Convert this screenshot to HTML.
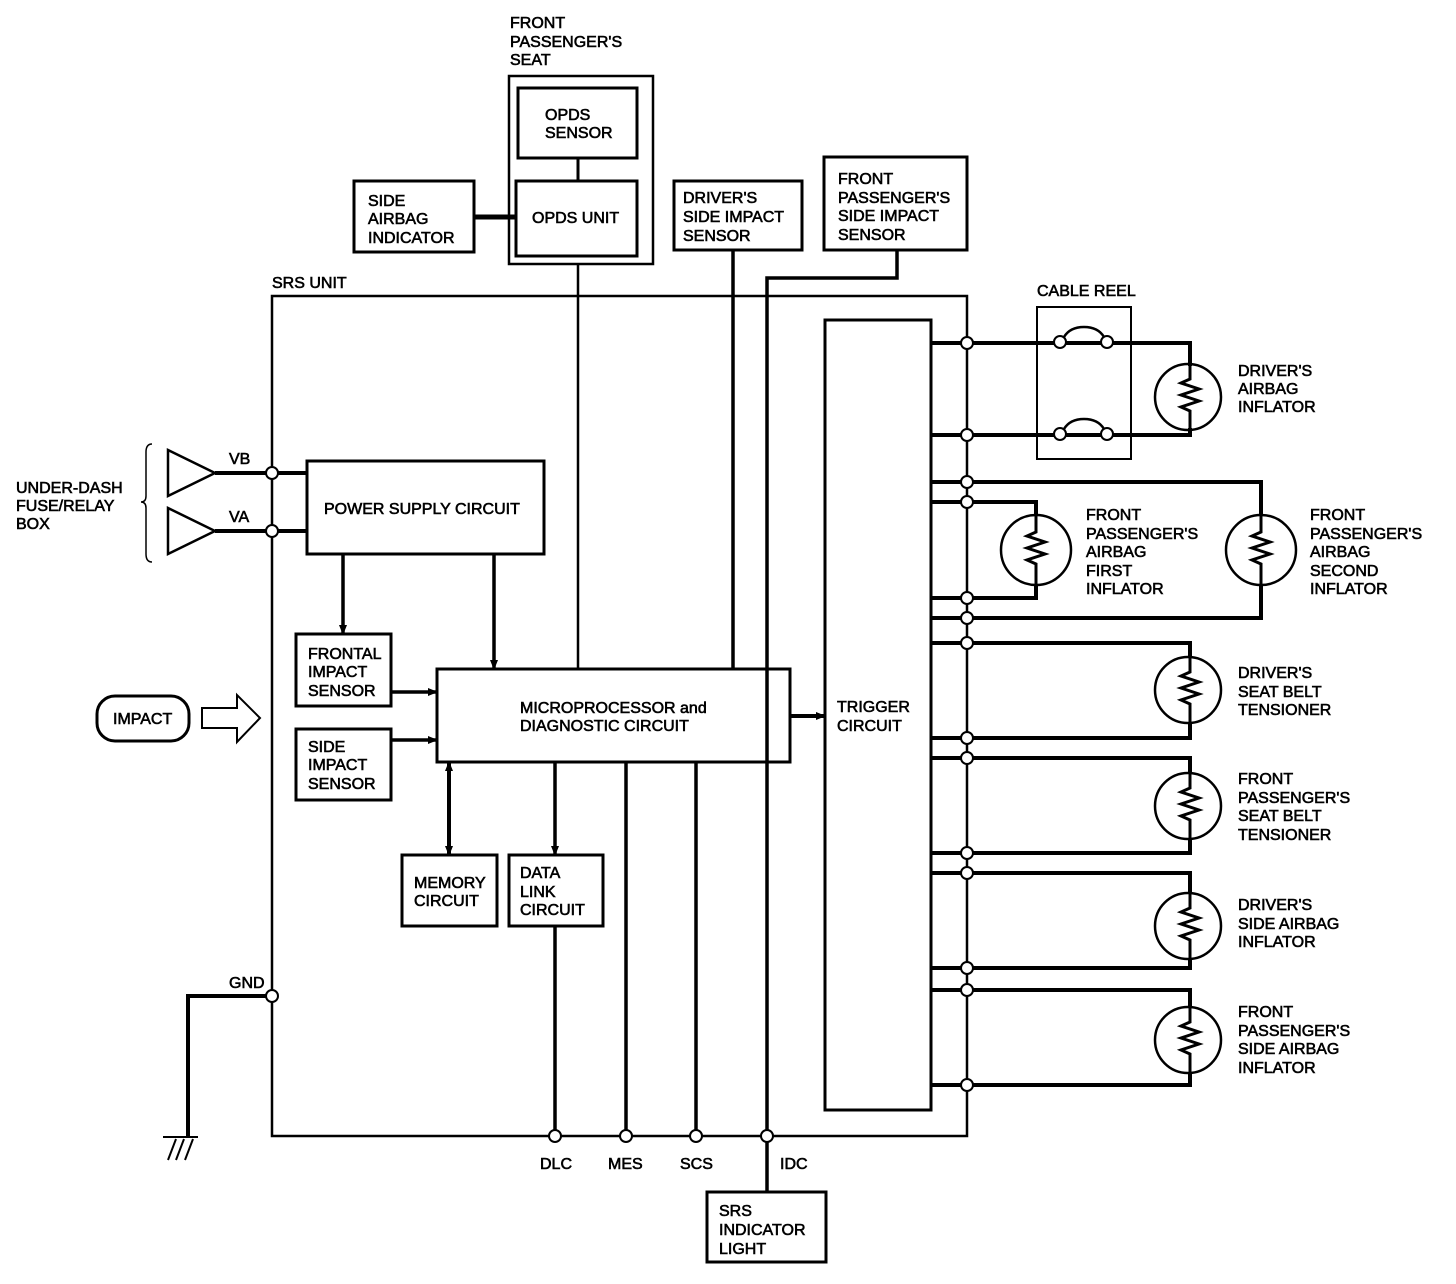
<!DOCTYPE html>
<html><head><meta charset="utf-8"><style>
html,body{margin:0;padding:0;background:#fff;}
svg{display:block;}
text{font-family:"Liberation Sans",sans-serif;font-size:16px;fill:#000;stroke:#000;stroke-width:0.6;}
</style></head><body>
<svg width="1456" height="1284" viewBox="0 0 1456 1284" xmlns="http://www.w3.org/2000/svg">
<defs>
<marker id="ah" markerWidth="10" markerHeight="10" refX="9" refY="5" orient="auto" markerUnits="userSpaceOnUse"><path d="M0,1 L10,5 L0,9 Z" fill="#000"/></marker>
<marker id="ahs" markerWidth="10" markerHeight="10" refX="1" refY="5" orient="auto" markerUnits="userSpaceOnUse"><path d="M10,1 L0,5 L10,9 Z" fill="#000"/></marker>
</defs>
<g fill="none" stroke="#000">
<path d="M272,296 H967 V1136 H272 Z" stroke-width="2.5"/>
<rect x="509" y="76" width="144" height="188" stroke-width="2.5"/>
<rect x="518" y="88" width="119" height="70" stroke-width="3"/>
<rect x="516" y="181" width="121" height="75" stroke-width="3"/>
<line x1="578" y1="158" x2="578" y2="181" stroke-width="3"/>
<rect x="354" y="181" width="120" height="71" stroke-width="3"/>
<line x1="474" y1="217" x2="516" y2="217" stroke-width="5"/>
<rect x="674" y="181" width="128" height="69" stroke-width="3"/>
<rect x="824" y="157" width="143" height="93" stroke-width="3"/>
<line x1="578" y1="264" x2="578" y2="669" stroke-width="2.5"/>
<line x1="733" y1="250" x2="733" y2="669" stroke-width="3.5"/>
<path d="M897,250 V278 H767 V1192" stroke-width="3.5"/>
<rect x="307" y="461" width="237" height="93" stroke-width="3"/>
<line x1="215" y1="473" x2="307" y2="473" stroke-width="4"/>
<line x1="215" y1="531" x2="307" y2="531" stroke-width="4"/>
<path d="M168,450 L215,473 L168,496 Z" stroke-width="2.5"/>
<path d="M168,508 L215,531 L168,554 Z" stroke-width="2.5"/>
<path d="M152,444 Q146,444 146,452 V496 Q146,502 141,502 Q146,502 146,508 V554 Q146,562 152,562" stroke-width="1.5"/>
<line x1="343" y1="554" x2="343" y2="634" stroke-width="3.5" marker-end="url(#ah)"/>
<line x1="494" y1="554" x2="494" y2="669" stroke-width="3.5" marker-end="url(#ah)"/>
<rect x="296" y="634" width="95" height="72" stroke-width="3"/>
<rect x="296" y="729" width="95" height="71" stroke-width="3"/>
<line x1="391" y1="692" x2="437" y2="692" stroke-width="3.5" marker-end="url(#ah)"/>
<line x1="391" y1="740" x2="437" y2="740" stroke-width="3.5" marker-end="url(#ah)"/>
<rect x="437" y="669" width="353" height="93" stroke-width="3"/>
<line x1="790" y1="716" x2="825" y2="716" stroke-width="4" marker-end="url(#ah)"/>
<line x1="449" y1="762" x2="449" y2="855" stroke-width="4" marker-start="url(#ahs)" marker-end="url(#ah)"/>
<line x1="555" y1="762" x2="555" y2="855" stroke-width="3.5" marker-end="url(#ah)"/>
<rect x="402" y="855" width="95" height="71" stroke-width="3"/>
<rect x="509" y="855" width="94" height="71" stroke-width="3"/>
<line x1="555" y1="926" x2="555" y2="1136" stroke-width="3.5"/>
<line x1="626" y1="762" x2="626" y2="1136" stroke-width="3.5"/>
<line x1="696" y1="762" x2="696" y2="1136" stroke-width="3.5"/>
<rect x="707" y="1192" width="119" height="70" stroke-width="3"/>
<path d="M272,996 H188 V1137" stroke-width="4"/>
<line x1="163" y1="1137" x2="198" y2="1137" stroke-width="2"/>
<path d="M176,1139 L168,1160 M184,1139 L176,1160 M193,1139 L185,1160" stroke-width="2"/>
<rect x="97" y="696" width="92" height="45" rx="18" stroke-width="3"/>
<path d="M202,708 H237 V695 L260,718 L237,742 V728 H202 Z" stroke-width="2"/>
<rect x="825" y="320" width="106" height="790" stroke-width="3"/>
<rect x="1037" y="307" width="94" height="152" stroke-width="2"/>
<path d="M1064,337 Q1070,327 1084,327 Q1098,327 1104,337" stroke-width="2.5"/>
<path d="M1064,429 Q1070,419 1084,419 Q1098,419 1104,429" stroke-width="2.5"/>
<path d="M931,343 H1190 V366 M1190,428 V435 H931" stroke-width="4"/>
<path d="M931,502 H1036 V516 M1036,584 V598 H931" stroke-width="4"/>
<path d="M931,482 H1261 V516 M1261,584 V618 H931" stroke-width="4"/>
<path d="M931,643 H1190 V658 M1190,722 V738 H931" stroke-width="4"/>
<path d="M931,758 H1190 V774 M1190,838 V853 H931" stroke-width="4"/>
<path d="M931,873 H1190 V894 M1190,958 V968 H931" stroke-width="4"/>
<path d="M931,990 H1190 V1008 M1190,1072 V1085 H931" stroke-width="4"/>
<g stroke-width="2.5">
<circle cx="1188" cy="397" r="33"/>
<circle cx="1036" cy="550" r="35"/>
<circle cx="1261" cy="550" r="35"/>
<circle cx="1188" cy="690" r="33"/>
<circle cx="1188" cy="806" r="33"/>
<circle cx="1188" cy="926" r="33"/>
<circle cx="1188" cy="1040" r="33"/>
</g>
<g stroke-width="3">
<path d="M1190,366 V379 l-9,4 l18,6 l-18,6 l18,6 l-18,6 l9,4 V428"/>
<path d="M1036,516 V532 l-9,4 l18,6 l-18,6 l18,6 l-18,6 l9,4 V584"/>
<path d="M1261,516 V532 l-9,4 l18,6 l-18,6 l18,6 l-18,6 l9,4 V584"/>
<path d="M1190,658 V672 l-9,4 l18,6 l-18,6 l18,6 l-18,6 l9,4 V722"/>
<path d="M1190,774 V788 l-9,4 l18,6 l-18,6 l18,6 l-18,6 l9,4 V838"/>
<path d="M1190,894 V908 l-9,4 l18,6 l-18,6 l18,6 l-18,6 l9,4 V958"/>
<path d="M1190,1008 V1022 l-9,4 l18,6 l-18,6 l18,6 l-18,6 l9,4 V1072"/>
</g>
</g>
<g fill="#fff" stroke="#000" stroke-width="2">
<circle cx="272" cy="473" r="6"/><circle cx="272" cy="531" r="6"/><circle cx="272" cy="996" r="6"/>
<circle cx="555" cy="1136" r="6"/><circle cx="626" cy="1136" r="6"/><circle cx="696" cy="1136" r="6"/><circle cx="767" cy="1136" r="6"/>
<circle cx="967" cy="343" r="6"/><circle cx="967" cy="435" r="6"/><circle cx="967" cy="482" r="6"/><circle cx="967" cy="502" r="6"/>
<circle cx="967" cy="598" r="6"/><circle cx="967" cy="618" r="6"/><circle cx="967" cy="643" r="6"/><circle cx="967" cy="738" r="6"/>
<circle cx="967" cy="758" r="6"/><circle cx="967" cy="853" r="6"/><circle cx="967" cy="873" r="6"/><circle cx="967" cy="968" r="6"/>
<circle cx="967" cy="990" r="6"/><circle cx="967" cy="1085" r="6"/>
<circle cx="1060" cy="342" r="6"/><circle cx="1107" cy="342" r="6"/><circle cx="1060" cy="434" r="6"/><circle cx="1107" cy="434" r="6"/>
</g>
<text x="510" y="28">FRONT</text><text x="510" y="47">PASSENGER'S</text><text x="510" y="65">SEAT</text>
<text x="545" y="120">OPDS</text><text x="545" y="138">SENSOR</text>
<text x="532" y="223">OPDS UNIT</text>
<text x="368" y="206">SIDE</text><text x="368" y="224">AIRBAG</text><text x="368" y="243">INDICATOR</text>
<text x="683" y="203">DRIVER'S</text><text x="683" y="222">SIDE IMPACT</text><text x="683" y="241">SENSOR</text>
<text x="838" y="184">FRONT</text><text x="838" y="203">PASSENGER'S</text><text x="838" y="221">SIDE IMPACT</text><text x="838" y="240">SENSOR</text>
<text x="272" y="288">SRS UNIT</text>
<text x="1037" y="296">CABLE REEL</text>
<text x="16" y="493">UNDER-DASH</text><text x="16" y="511">FUSE/RELAY</text><text x="16" y="529">BOX</text>
<text x="229" y="464">VB</text><text x="229" y="522">VA</text>
<text x="324" y="514">POWER SUPPLY CIRCUIT</text>
<text x="308" y="659">FRONTAL</text><text x="308" y="677">IMPACT</text><text x="308" y="696">SENSOR</text>
<text x="308" y="752">SIDE</text><text x="308" y="770">IMPACT</text><text x="308" y="789">SENSOR</text>
<text x="113" y="724">IMPACT</text>
<text x="520" y="713">MICROPROCESSOR and</text><text x="520" y="731">DIAGNOSTIC CIRCUIT</text>
<text x="837" y="712">TRIGGER</text><text x="837" y="731">CIRCUIT</text>
<text x="414" y="888">MEMORY</text><text x="414" y="906">CIRCUIT</text>
<text x="520" y="878">DATA</text><text x="520" y="897">LINK</text><text x="520" y="915">CIRCUIT</text>
<text x="229" y="988">GND</text>
<text x="540" y="1169">DLC</text><text x="608" y="1169">MES</text><text x="680" y="1169">SCS</text><text x="780" y="1169">IDC</text>
<text x="719" y="1216">SRS</text><text x="719" y="1235">INDICATOR</text><text x="719" y="1254">LIGHT</text>
<text x="1238" y="376">DRIVER'S</text><text x="1238" y="394">AIRBAG</text><text x="1238" y="412">INFLATOR</text>
<text x="1086" y="520">FRONT</text><text x="1086" y="539">PASSENGER'S</text><text x="1086" y="557">AIRBAG</text><text x="1086" y="576">FIRST</text><text x="1086" y="594">INFLATOR</text>
<text x="1310" y="520">FRONT</text><text x="1310" y="539">PASSENGER'S</text><text x="1310" y="557">AIRBAG</text><text x="1310" y="576">SECOND</text><text x="1310" y="594">INFLATOR</text>
<text x="1238" y="678">DRIVER'S</text><text x="1238" y="697">SEAT BELT</text><text x="1238" y="715">TENSIONER</text>
<text x="1238" y="784">FRONT</text><text x="1238" y="803">PASSENGER'S</text><text x="1238" y="821">SEAT BELT</text><text x="1238" y="840">TENSIONER</text>
<text x="1238" y="910">DRIVER'S</text><text x="1238" y="929">SIDE AIRBAG</text><text x="1238" y="947">INFLATOR</text>
<text x="1238" y="1017">FRONT</text><text x="1238" y="1036">PASSENGER'S</text><text x="1238" y="1054">SIDE AIRBAG</text><text x="1238" y="1073">INFLATOR</text>
</svg>
</body></html>
